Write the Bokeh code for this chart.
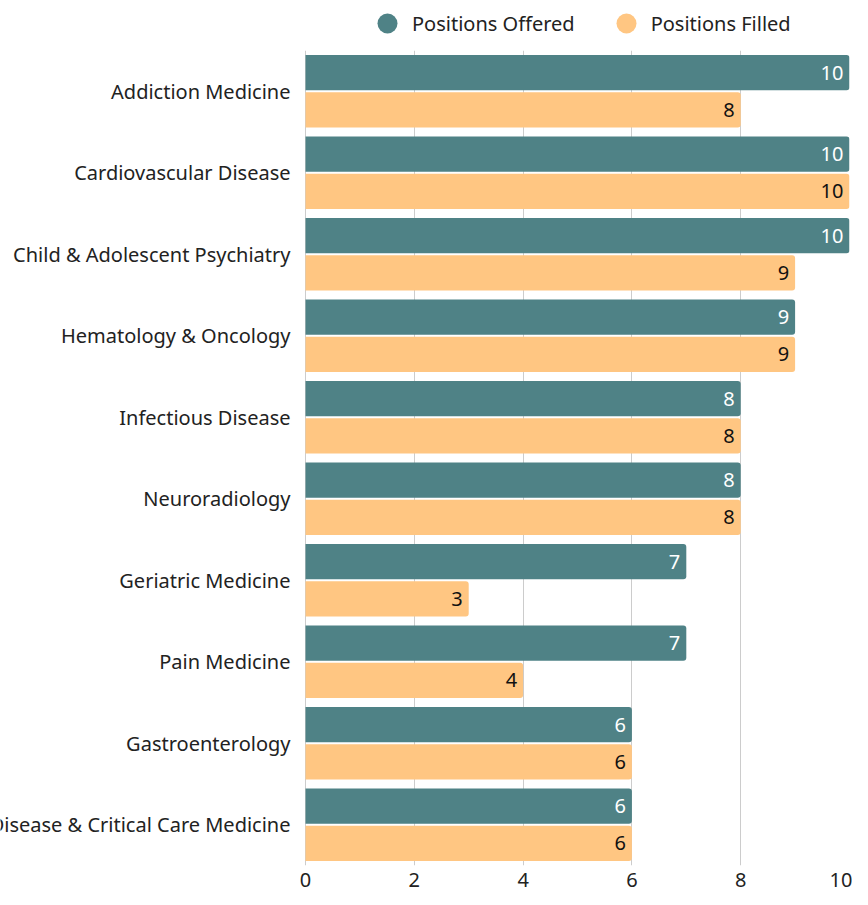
from bokeh.plotting import figure
from bokeh.layouts import column
from bokeh.models import ColumnDataSource, FactorRange, Legend, LegendItem, Range1d, FixedTicker
from bokeh.transform import dodge
from bokeh.embed import file_html
from bokeh.resources import INLINE
from bokeh.core.properties import value

categories = ["Addiction Medicine", "Cardiovascular Disease", "Child & Adolescent Psychiatry",
              "Hematology & Oncology", "Infectious Disease", "Neuroradiology",
              "Geriatric Medicine", "Pain Medicine", "Gastroenterology",
              "Pulmonary Disease & Critical Care Medicine"]
offered = [10, 10, 10, 9, 8, 8, 7, 7, 6, 6]
filled = [8, 10, 9, 9, 8, 8, 3, 4, 6, 6]
x_ticks = [0, 2, 4, 6, 8, 10]
series_names = ["Positions Offered", "Positions Filled"]

FONT = "Noto Sans"
TEAL = "#4f8286"
ORANGE = "#ffc682"
TXT = "#222222"
W = 852
LEG_H = 50
H = 889 - LEG_H

src = ColumnDataSource(dict(
    cat=categories, offered=offered, filled=filled,
    offered_txt=[str(v) for v in offered], filled_txt=[str(v) for v in filled],
    zero=[0] * len(categories)))

# ---- legend strip on top ----
pl = figure(width=W, height=LEG_H, x_range=Range1d(0, 1), y_range=Range1d(0, 1),
            output_backend="svg", toolbar_location=None,
            x_axis_location=None, y_axis_location=None,
            min_border_left=0, min_border_right=0, min_border_top=0, min_border_bottom=0)
pl.title.visible = False
pl.outline_line_color = None
pl.grid.grid_line_color = None
r1 = pl.scatter(x=offered[:1], y=filled[:1], size=0, marker="circle",
                fill_color=TEAL, line_color=None)
r2 = pl.scatter(x=offered[:1], y=filled[:1], size=0, marker="circle",
                fill_color=ORANGE, line_color=None)
legend = Legend(items=[LegendItem(label=series_names[0], renderers=[r1]),
                       LegendItem(label=series_names[1], renderers=[r2])],
                orientation="horizontal", location=(387 - LEG_H // 2, 2),
                glyph_width=LEG_H, glyph_height=LEG_H, label_standoff=-13, spacing=26,
                padding=0, margin=0, border_line_color=None, background_fill_alpha=0,
                label_text_font=FONT, label_text_font_size="20px", label_text_color=TXT,
                label_text_baseline="middle")
pl.add_layout(legend, "center")

# ---- main chart; the frame spans the whole width, negative x room holds the labels ----
p = figure(width=W, height=H, y_range=FactorRange(factors=categories[::-1]),
           x_range=Range1d(-5.607, 10), output_backend="svg", toolbar_location=None,
           min_border_left=0, min_border_right=3, min_border_top=0, min_border_bottom=0)
p.title.visible = False
p.outline_line_color = None
p.yaxis.visible = False
p.ygrid.grid_line_color = None
p.xgrid.grid_line_color = "#cccccc"
p.xgrid.ticker = FixedTicker(ticks=x_ticks)
p.xaxis.ticker = FixedTicker(ticks=x_ticks)
p.xaxis.axis_line_color = None
p.xaxis.major_tick_line_color = None
p.xaxis.minor_tick_line_color = None
p.xaxis.major_label_text_font = FONT
p.xaxis.major_label_text_font_size = "20px"
p.xaxis.major_label_text_color = TXT
p.xaxis.major_label_standoff = 1

off = 0.229
bh = 0.434
p.hbar(y=dodge("cat", off, range=p.y_range), left=0, right="offered", height=bh,
       fill_color=TEAL, line_color=None, border_radius=(0, 3, 3, 0), source=src)
p.hbar(y=dodge("cat", -off, range=p.y_range), left=0, right="filled", height=bh,
       fill_color=ORANGE, line_color=None, border_radius=(0, 3, 3, 0), source=src)

p.text(x="offered", y=dodge("cat", off, range=p.y_range), text="offered_txt", x_offset=-6,
       text_align="right", text_baseline="middle", text_color="white",
       text_font=value(FONT), text_font_size="20px", source=src)
p.text(x="filled", y=dodge("cat", -off, range=p.y_range), text="filled_txt", x_offset=-6,
       text_align="right", text_baseline="middle", text_color="#111111",
       text_font=value(FONT), text_font_size="20px", source=src)

p.text(x="zero", y="cat", text="cat", x_offset=-15, text_align="right",
       text_baseline="middle", text_color=TXT, text_font=value(FONT),
       text_font_size="20px", source=src)

layout = column(pl, p, spacing=0)
open("out.html", "w").write(file_html(layout, INLINE))
